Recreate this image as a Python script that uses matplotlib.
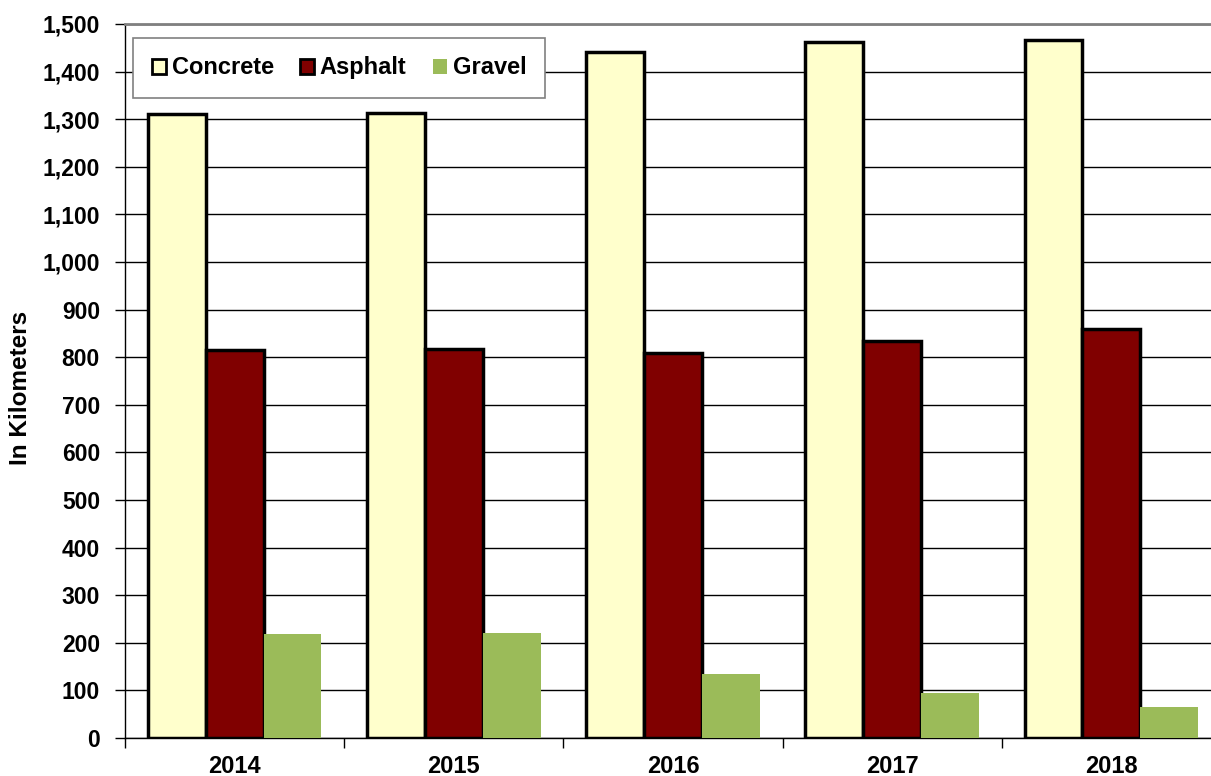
import matplotlib
matplotlib.use("Agg")
import matplotlib.pyplot as plt
import numpy as np
from matplotlib.ticker import FuncFormatter, FixedLocator

years = ["2014", "2015", "2016", "2017", "2018"]
concrete = [1311, 1313, 1441, 1462, 1466]
asphalt = [815, 817, 809, 834, 859]
gravel = [218, 220, 134, 94, 65]

plt.rcParams["font.family"] = ["Liberation Sans", "DejaVu Sans"]
plt.rcParams["font.weight"] = "bold"


def main():
    fig = plt.figure(figsize=(12.11, 7.76), dpi=100)
    ax = fig.add_axes([125 / 1211, 38 / 776, 1096 / 1211, 714 / 776])
    x = np.arange(len(years))
    w = 0.264
    ax.bar(x - w, concrete, w, color="#FFFFCC", edgecolor="black",
           linewidth=2.5, label="Concrete", zorder=3)
    ax.bar(x, asphalt, w, color="#800000", edgecolor="black",
           linewidth=2.5, label="Asphalt", zorder=3)
    ax.bar(x + w, gravel, w, color="#9BBB59", edgecolor="none",
           label="Gravel", zorder=3)

    ax.set_xlim(-0.5, len(years) - 0.5)
    ax.set_ylim(0, 1500)
    ax.set_yticks(range(0, 1501, 100))
    ax.yaxis.set_major_formatter(FuncFormatter(lambda v, p: f"{int(v):,}"))
    ax.yaxis.grid(True, color="black", linewidth=1, zorder=0)
    ax.set_xticks(x)
    ax.set_xticklabels(years)
    ax.xaxis.set_minor_locator(FixedLocator(np.arange(-0.5, len(years), 1)))
    ax.tick_params(axis="x", which="major", length=0, pad=12, labelsize=17)
    ax.tick_params(axis="x", which="minor", length=7, width=1, direction="out")
    ax.tick_params(axis="y", length=7, width=1, labelsize=16.5, pad=11)
    for lab in ax.get_xticklabels() + ax.get_yticklabels():
        lab.set_fontweight("bold")

    ax.spines["right"].set_visible(False)
    ax.spines["top"].set_color("#808080")
    ax.spines["top"].set_linewidth(2)
    ax.spines["left"].set_linewidth(1)
    ax.spines["bottom"].set_linewidth(1)
    ax.set_ylabel("In Kilometers", fontsize=17.5, fontweight="bold")
    ax.yaxis.set_label_coords(-0.085, 0.49)

    leg = ax.legend(loc="upper left", bbox_to_anchor=(0.007, 0.981), ncol=3,
                    prop={"weight": "bold", "size": 17},
                    handlelength=0.6, handleheight=0.6, handletextpad=0.25,
                    columnspacing=1.1, borderpad=0.8, fancybox=False,
                    shadow=False, framealpha=1, borderaxespad=0)
    leg.get_frame().set_edgecolor("#808080")
    leg.get_frame().set_linewidth(1.2)
    for h in leg.legend_handles:
        if h.get_edgecolor()[3] > 0:
            h.set_linewidth(2)

    fig.savefig("out.png", dpi=100)


if __name__ == "__main__":
    main()
